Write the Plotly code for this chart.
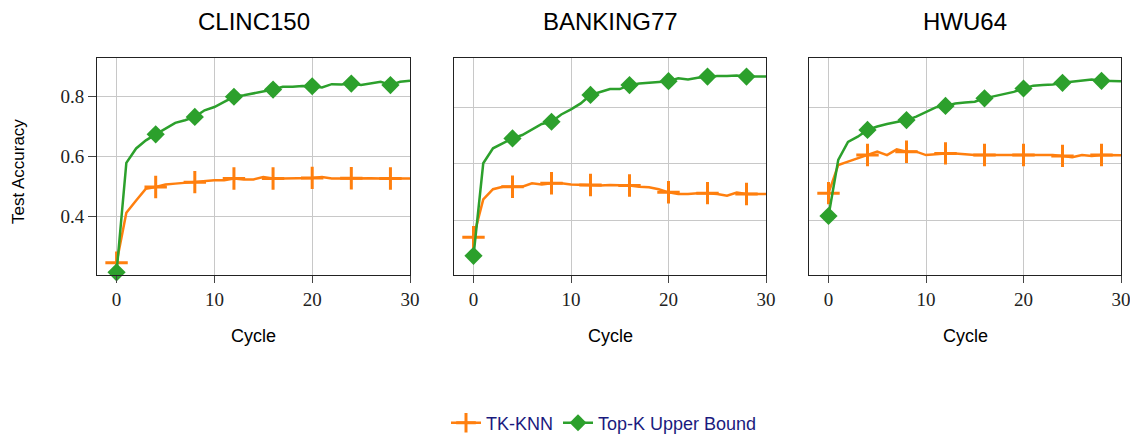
import plotly.graph_objects as go

cycles = list(range(31))

clinc_tkknn = [0.246, 0.412, 0.453, 0.492, 0.498, 0.506, 0.509, 0.512, 0.514, 0.517, 0.520,
               0.520, 0.526, 0.523, 0.523, 0.531, 0.526, 0.526, 0.526, 0.527, 0.528,
               0.531, 0.526, 0.526, 0.527, 0.526, 0.527, 0.526, 0.526, 0.526, 0.526]
clinc_topk = [0.214, 0.578, 0.626, 0.653, 0.673, 0.692, 0.711, 0.720, 0.731, 0.753, 0.764,
              0.781, 0.798, 0.803, 0.809, 0.814, 0.822, 0.831, 0.831, 0.834, 0.833,
              0.829, 0.840, 0.839, 0.842, 0.837, 0.842, 0.848, 0.837, 0.848, 0.851]

bank_tkknn = [0.340, 0.474, 0.510, 0.519, 0.519, 0.519, 0.531, 0.527, 0.531, 0.531, 0.527,
              0.525, 0.525, 0.523, 0.525, 0.525, 0.523, 0.519, 0.517, 0.510, 0.499,
              0.493, 0.493, 0.496, 0.496, 0.493, 0.487, 0.498, 0.493, 0.493, 0.493]
bank_topk = [0.274, 0.602, 0.655, 0.673, 0.690, 0.702, 0.722, 0.741, 0.749, 0.775, 0.793,
             0.814, 0.844, 0.855, 0.865, 0.865, 0.879, 0.885, 0.888, 0.891, 0.893,
             0.903, 0.899, 0.905, 0.909, 0.911, 0.911, 0.913, 0.909, 0.909, 0.909]

hwu_tkknn = [0.496, 0.596, 0.608, 0.619, 0.631, 0.643, 0.631, 0.651, 0.643, 0.643, 0.631,
             0.634, 0.637, 0.637, 0.634, 0.631, 0.631, 0.631, 0.631, 0.631, 0.631,
             0.631, 0.631, 0.631, 0.628, 0.623, 0.631, 0.628, 0.631, 0.630, 0.630]
hwu_topk = [0.415, 0.614, 0.678, 0.696, 0.720, 0.732, 0.741, 0.749, 0.755, 0.767, 0.785,
            0.800, 0.805, 0.814, 0.817, 0.820, 0.832, 0.840, 0.846, 0.855, 0.867,
            0.877, 0.879, 0.881, 0.887, 0.891, 0.897, 0.899, 0.894, 0.893, 0.893]

titles = ["CLINC150", "BANKING77", "HWU64"]
series_names = ["TK-KNN", "Top-K Upper Bound"]
x_title = "Cycle"
y_title = "Test Accuracy"
x_ticks = [0, 10, 20, 30]
y_ticks = [0.4, 0.6, 0.8]
y_ticktext = ["0.4", "0.6", "0.8"]
panels = [(clinc_tkknn, clinc_topk), (bank_tkknn, bank_topk), (hwu_tkknn, hwu_topk)]

ORANGE = "#ff7f0e"
GREEN = "#2ca02c"

# page body has an 8px default margin; work in screen pixels and convert
OFF = 8
W, H = 1130, 431


def fx(s):
    return (s - OFF) / W


def fy(s):
    return (H - (s - OFF)) / H


x_px = [(97, 410), (454, 766), (809, 1121)]
y_top, y_bot = 58, 275
y_ranges = [[0.205, 0.927], [0.206, 0.975], [0.206, 0.975]]

fig = go.Figure()

cross_sizes = [16 if i % 4 == 0 and i < 30 else 0 for i in cycles]
diam_sizes = [14 if i % 4 == 0 and i < 30 else 0 for i in cycles]

for k, (tk, top) in enumerate(panels):
    xa = "x" if k == 0 else f"x{k+1}"
    ya = "y" if k == 0 else f"y{k+1}"
    fig.add_trace(go.Scatter(x=cycles, y=tk, mode="lines+markers", xaxis=xa, yaxis=ya,
                             line=dict(color=ORANGE, width=2.5),
                             marker=dict(symbol="cross-thin", size=cross_sizes, opacity=1,
                                         line=dict(color=ORANGE, width=3)),
                             showlegend=False, name=series_names[0], cliponaxis=False))
    fig.add_trace(go.Scatter(x=cycles, y=top, mode="lines+markers", xaxis=xa, yaxis=ya,
                             line=dict(color=GREEN, width=2.5),
                             marker=dict(symbol="diamond", size=diam_sizes, color=GREEN, opacity=1,
                                         line=dict(width=0)),
                             showlegend=False, name=series_names[1], cliponaxis=False))

# legend proxies
fig.add_trace(go.Scatter(x=[None], y=[None], mode="lines+markers", name=series_names[0],
                         line=dict(color=ORANGE, width=2.5),
                         marker=dict(symbol="cross-thin", size=14, opacity=1,
                                     line=dict(color=ORANGE, width=3))))
fig.add_trace(go.Scatter(x=[None], y=[None], mode="lines+markers", name=series_names[1],
                         line=dict(color=GREEN, width=2.5),
                         marker=dict(symbol="diamond", size=13, color=GREEN, opacity=1)))

layout = dict(width=W, height=H, margin=dict(l=0, r=0, t=0, b=0, autoexpand=False),
              plot_bgcolor="white", paper_bgcolor="white",
              font=dict(family="Liberation Sans", color="black"))

tickfont = dict(family="Liberation Serif", size=19, color="#222")
for k in range(3):
    sx = "xaxis" if k == 0 else f"xaxis{k+1}"
    sy = "yaxis" if k == 0 else f"yaxis{k+1}"
    x0, x1 = x_px[k]
    layout[sx] = dict(domain=[fx(x0), fx(x1)], range=[-2, 30], anchor="y" if k == 0 else f"y{k+1}",
                      tickvals=x_ticks, ticks="outside", ticklen=7, tickcolor="#444",
                      tickfont=tickfont, showgrid=True, gridcolor="#c8c8c8", gridwidth=1,
                      showline=True, linecolor="#222", linewidth=1, mirror=True, zeroline=False,
                      automargin=False)
    layout[sy] = dict(domain=[fy(y_bot), fy(y_top)], range=y_ranges[k],
                      anchor="x" if k == 0 else f"x{k+1}",
                      tickvals=y_ticks, ticktext=y_ticktext,
                      ticks="outside" if k == 0 else "", ticklen=8, tickcolor="#444",
                      showticklabels=(k == 0), tickfont=tickfont,
                      showgrid=True, gridcolor="#c8c8c8", gridwidth=1,
                      showline=True, linecolor="#222", linewidth=1, mirror=True, zeroline=False,
                      automargin=False)

annotations = []
for k, t in enumerate(titles):
    x0, x1 = x_px[k]
    annotations.append(dict(text=t, x=fx((x0 + x1) / 2), y=fy(22), xref="paper", yref="paper",
                            showarrow=False, font=dict(size=24, family="Liberation Sans", color="black"),
                            xanchor="center", yanchor="middle"))
    annotations.append(dict(text=x_title, x=fx((x0 + x1) / 2), y=fy(336), xref="paper", yref="paper",
                            showarrow=False, font=dict(size=18, family="Liberation Sans", color="black"),
                            xanchor="center", yanchor="middle"))
annotations.append(dict(text=y_title, x=fx(18), y=fy(172), xref="paper", yref="paper",
                        showarrow=False, textangle=-90,
                        font=dict(size=17, family="Liberation Sans", color="black"),
                        xanchor="center", yanchor="middle"))
layout["annotations"] = annotations
layout["legend"] = dict(orientation="h", x=fx(604), y=fy(423), xanchor="center", yanchor="middle",
                        font=dict(size=18, family="Liberation Sans", color="#1a1a7e"),
                        itemwidth=30, tracegroupgap=0, bgcolor="rgba(0,0,0,0)")
fig.update_layout(**layout)

fig.write_html("out.html")
